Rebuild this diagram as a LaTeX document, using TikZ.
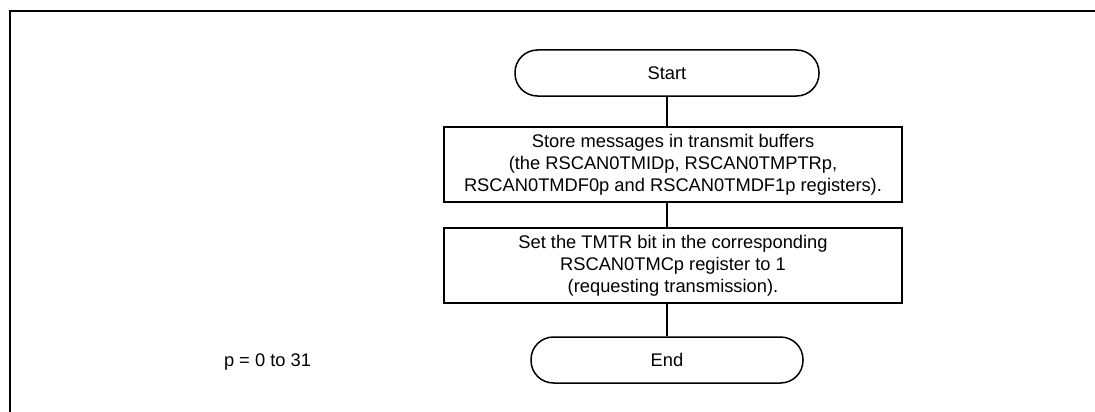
\documentclass[tikz,border=0pt]{standalone}
\usepackage{fontspec}
\setmainfont{Liberation Sans}
\usetikzlibrary{positioning}

\begin{document}
\begin{tikzpicture}[x=1pt, y=-1pt,
    every node/.style={font=\fontsize{18.3}{22}\selectfont, inner sep=0pt, align=center},
    terminal/.style={draw, line width=1.5pt, rounded corners=22.5pt, minimum height=46pt},
    process/.style={draw, line width=1.5pt, minimum width=458pt, minimum height=75pt},
    link/.style={line width=1.5pt}]
    \useasboundingbox (0,0) rectangle (1095,412);

    % Draw open frame
    \draw[line width=2pt] (1095,11) -- (10,11) -- (10,412);

    % Draw flow nodes
    \node[terminal, minimum width=304pt] (start) at (667,73) {Start};
    \node[process] (store) at (673,164.5) {Store messages in transmit buffers\\
      (the RSCAN0TMIDp, RSCAN0TMPTRp,\\
      RSCAN0TMDF0p and RSCAN0TMDF1p registers).};
    \node[process] (settmtr) at (673,265.5) {Set the TMTR bit in the corresponding\\
      RSCAN0TMCp register to 1\\
      (requesting transmission).};
    \node[terminal, minimum width=272pt] (end) at (667,360) {End};

    % Draw note
    \node (note) at (267.5,362) {p = 0 to 31};

    % Draw connecting lines
    \draw[link] (start.south) -- (start.south |- store.north);
    \draw[link] (start.south |- store.south) -- (start.south |- settmtr.north);
    \draw[link] (end.north |- settmtr.south) -- (end.north);

  \end{tikzpicture}
\end{document}
